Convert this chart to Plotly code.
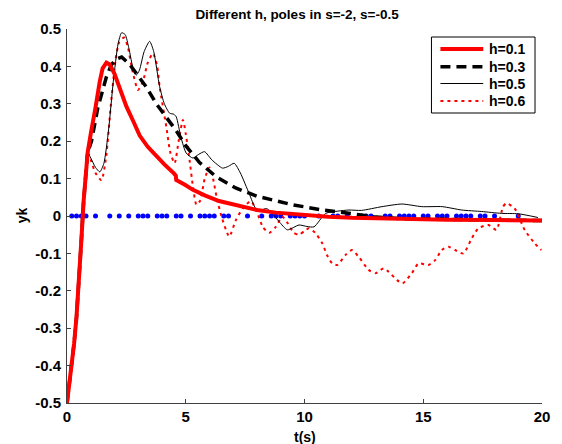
import plotly.graph_objects as go

# common initial rise (all responses identical here)
t_init = [0, 0.1, 0.2, 0.3, 0.4, 0.5, 0.6, 0.7, 0.8, 0.87]
y_init = [-0.5, -0.45, -0.4, -0.34, -0.27, -0.18, -0.07, 0.04, 0.13, 0.17]

# h = 0.1 (red solid)
t_h1 = [1.0, 1.1, 1.2, 1.38, 1.5, 1.66, 1.8, 2.0, 2.2, 2.5, 2.8, 3.06, 3.4, 3.76, 4.1, 4.5, 4.58,
        4.6, 4.7, 5.0, 5.3, 5.8, 6.4, 7.0, 7.5, 8.0, 8.8, 10, 11, 12, 14, 16, 18, 20]
y_h1 = [0.22, 0.25, 0.29, 0.36, 0.395, 0.41, 0.405, 0.38, 0.345, 0.293, 0.252, 0.215, 0.185, 0.16, 0.138, 0.114, 0.108,
        0.096, 0.093, 0.082, 0.07, 0.055, 0.04, 0.03, 0.022, 0.016, 0.009, 0.002, -0.002, -0.005, -0.008, -0.01, -0.011, -0.012]

# h = 0.3 (black dashed)
t_h3 = [1.03, 1.3, 1.66, 1.87, 2.1, 2.3, 2.64, 3.0, 3.34, 3.76, 4.18, 4.6, 5.0, 5.58, 6.28, 7.1, 8.0, 8.65,
        9.5, 10.05, 10.75, 11.45, 12.15, 12.9, 14, 16, 18, 20]
y_h3 = [0.2, 0.29, 0.372, 0.405, 0.42, 0.425, 0.405, 0.375, 0.345, 0.3, 0.265, 0.228, 0.188, 0.143, 0.105, 0.075, 0.053, 0.043,
        0.03, 0.024, 0.016, 0.011, 0.005, -0.002, -0.007, -0.01, -0.011, -0.012]

# h = 0.5 (black thin)
t_h5 = [1.0, 1.2, 1.38, 1.55, 1.75, 1.95, 2.15, 2.3, 2.45, 2.6, 2.8, 2.92, 3.05, 3.25, 3.48, 3.65, 3.9, 4.1,
        4.32, 4.5, 4.6, 4.8, 5.02, 5.3, 5.55, 5.79, 6.1, 6.55, 6.8, 7.04, 7.3, 7.67, 7.95, 8.16, 8.4, 8.6,
        8.93, 9.28, 9.77, 10.1, 10.4, 10.89, 11.4, 11.87, 12.4, 13.26, 14.1, 14.94, 15.8, 16.62, 17.46,
        18.29, 19.0, 19.83]
y_h5 = [0.155, 0.13, 0.118, 0.14, 0.23, 0.36, 0.46, 0.49, 0.485, 0.45, 0.39, 0.377, 0.39, 0.44, 0.467, 0.44, 0.346, 0.3,
        0.275, 0.272, 0.265, 0.21, 0.168, 0.155, 0.165, 0.172, 0.15, 0.128, 0.133, 0.141, 0.115, 0.06, 0.02, 0.016, 0.02, 0.01,
        -0.015, -0.037, -0.024, -0.028, -0.029, 0.007, 0.013, 0.016, 0.015, 0.025, 0.032, 0.025, 0.025, 0.016, 0.012,
        0.007, 0.006, -0.004]

# h = 0.6 (red dotted)
t_h6 = [1.0, 1.2, 1.45, 1.65, 1.85, 2.05, 2.2, 2.4, 2.55, 2.75, 2.99, 3.2, 3.4, 3.62, 3.8, 3.9, 4.18, 4.35,
        4.53, 4.7, 4.88, 5.0, 5.16, 5.3, 5.45, 5.6, 5.8, 6.0, 6.15, 6.3, 6.5, 6.83, 7.11, 7.4, 7.74, 8.0,
        8.25, 8.51, 8.79, 9.07, 9.3, 9.55, 9.77, 10.0, 10.19, 10.45, 10.75, 10.95, 11.17, 11.38, 11.73,
        12.0, 12.28, 12.7, 12.99, 13.33, 13.54, 13.89, 14.13, 14.52, 14.8, 15.22, 15.5, 15.78, 16.06,
        16.34, 16.69, 17.04, 17.32, 17.74, 18.08, 18.36, 18.5, 18.85, 19.27, 19.69, 19.97]
y_h6 = [0.15, 0.115, 0.096, 0.16, 0.3, 0.42, 0.465, 0.477, 0.455, 0.39, 0.337, 0.36, 0.41, 0.435, 0.4, 0.346, 0.239, 0.17,
        0.141, 0.2, 0.257, 0.22, 0.15, 0.08, 0.03, 0.04, 0.1, 0.13, 0.1, 0.05, 0.0, -0.055, -0.011, 0.02, 0.04, 0.01,
        -0.03, -0.045, -0.029, -0.002, -0.02, -0.045, -0.05, -0.04, -0.033, -0.045, -0.073, -0.105, -0.127, -0.131, -0.104,
        -0.091, -0.109, -0.144, -0.153, -0.14, -0.149, -0.171, -0.18, -0.153, -0.127, -0.131, -0.118, -0.091, -0.082,
        -0.091, -0.1, -0.06, -0.033, -0.024, -0.037, 0.025, 0.034, 0.02, -0.037, -0.073, -0.091]

# event (sampling) instants, blue dots on y = 0
t_events = [0.2, 0.4, 0.6, 0.8, 1.2, 1.8, 2.2, 2.6, 3.0, 3.2, 3.4, 3.8, 4.0, 4.2, 4.6, 4.8, 5.2, 5.6, 5.8,
            6.0, 6.2, 6.6, 6.8, 7.6, 8.2, 8.6, 8.8, 9.0, 9.4, 9.6, 9.8, 10.0, 10.6, 11.2, 11.4, 11.8, 12.4,
            12.6, 12.8, 13.4, 13.6, 14.0, 14.2, 14.4, 14.6, 15.0, 15.2, 15.6, 15.8, 16.0, 16.4, 16.6, 16.8,
            17.0, 17.4, 17.6, 18.0, 19.0]
y_events = [0.0] * len(t_events)

labels = ["h=0.1", "h=0.3", "h=0.5", "h=0.6"]
y_ticks = [-0.5, -0.4, -0.3, -0.2, -0.1, 0, 0.1, 0.2, 0.3, 0.4, 0.5]
y_tick_text = ["-0.5", "-0.4", "-0.3", "-0.2", "-0.1", "0", "0.1", "0.2", "0.3", "0.4", "0.5"]
x_ticks = [0, 5, 10, 15, 20]

FONT = "Liberation Sans, Arial, sans-serif"
styles = [
    dict(color="#ff0000", width=4),
    dict(color="#000000", width=3.5, dash="10px,6px"),
    dict(color="#000000", width=1),
    dict(color="#ff0000", width=2, dash="3px,4px"),
]

# plot-area geometry (pixels) used to place the legend box
L, R, T, B = 67, 544, 29, 403
def px(x):
    return (x - L) / (R - L)
def py(y):
    return (B - y) / (B - T)

fig = go.Figure()
fig.add_trace(go.Scatter(x=t_events, y=y_events, mode="markers", showlegend=False,
                         marker=dict(color="#0000ff", size=5, line=dict(width=0))))
fig.add_trace(go.Scatter(x=t_init + t_h6, y=y_init + y_h6, mode="lines", name=labels[3], showlegend=False,
                         line=dict(**styles[3], shape="spline", smoothing=0.6)))
fig.add_trace(go.Scatter(x=t_init + t_h5, y=y_init + y_h5, mode="lines", name=labels[2], showlegend=False,
                         line=dict(**styles[2], shape="spline", smoothing=0.6)))
fig.add_trace(go.Scatter(x=t_init + t_h3, y=y_init + y_h3, mode="lines", name=labels[1], showlegend=False,
                         line=styles[1]))
fig.add_trace(go.Scatter(x=t_init + t_h1, y=y_init + y_h1, mode="lines", name=labels[0], showlegend=False,
                         line=styles[0]))

# legend drawn as a box with sample lines and labels
shapes = [dict(type="rect", xref="paper", yref="paper", x0=px(433), x1=px(537), y0=py(113), y1=py(37),
               line=dict(color="black", width=1), fillcolor="white", layer="above")]
annotations = []
row_y = [49, 66.7, 83.5, 101]
for i, lab in enumerate(labels):
    shapes.append(dict(type="line", xref="paper", yref="paper", x0=px(442), x1=px(485),
                       y0=py(row_y[i]), y1=py(row_y[i]), line=styles[i], layer="above"))
    annotations.append(dict(text=lab, x=px(489), y=py(row_y[i]), xref="paper", yref="paper",
                            showarrow=False, xanchor="left", yanchor="middle",
                            font=dict(family=FONT, size=14, color="black", weight="bold")))

annotations += [
    dict(text="t(s)", x=0.5, y=py(437), xref="paper", yref="paper", showarrow=False,
         xanchor="center", yanchor="middle", font=dict(family=FONT, size=14, color="black", weight="bold")),
    dict(text="yk", x=px(22), y=py(215), xref="paper", yref="paper", showarrow=False,
         textangle=-90, xanchor="center", yanchor="middle",
         font=dict(family=FONT, size=14, color="black", weight="bold")),
]

fig.update_layout(
    width=562, height=444,
    margin=dict(l=L, r=562 - R, t=T, b=444 - B),
    paper_bgcolor="white", plot_bgcolor="white",
    font=dict(family=FONT, size=15, color="black", weight="bold"),
    showlegend=False,
    title=dict(text="Different h, poles in s=-2, s=-0.5", x=px(298), xref="paper",
               y=1 - 14.5 / 444, yref="container", yanchor="middle", xanchor="center",
               font=dict(family=FONT, size=13.5, color="black", weight="bold")),
    xaxis=dict(range=[0, 20], tickvals=x_ticks, showline=True, linecolor="#404040", linewidth=1,
               ticks="inside", ticklen=4, tickcolor="#404040", showgrid=False, zeroline=False,
               mirror=False, ticklabelstandoff=0),
    yaxis=dict(range=[-0.5, 0.5], tickvals=y_ticks, ticktext=y_tick_text, showline=True,
               linecolor="#404040", linewidth=1, ticks="inside", ticklen=4, tickcolor="#404040",
               showgrid=False, zeroline=False, mirror=False, ticklabelstandoff=2),
    shapes=shapes,
    annotations=annotations,
)

fig.write_html("out.html")
